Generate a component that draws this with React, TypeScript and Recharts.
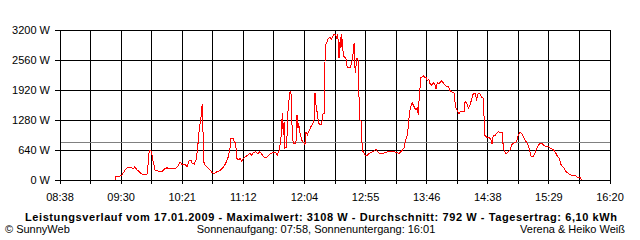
import React from 'react';
import { LineChart, Line, XAxis, YAxis, CartesianGrid, ReferenceLine } from 'recharts';

// time of day in minutes since midnight
const timeMin = [
  564.2, 565.0, 568.4, 570.1, 572.6, 574.3, 575.1, 578.5, 579.3, 581.0, 582.7, 583.5, 585.2, 586.9,
  591.1, 591.9, 593.0, 594.2, 595.0, 595.9, 597.0, 597.8, 600.3, 603.7, 605.4, 607.9, 608.7, 612.1,
  614.6, 617.1, 618.8, 620.5, 623.0, 624.7, 626.4, 628.0, 628.9, 630.8, 632.2, 633.3, 634.2, 635.0,
  636.2, 637.0, 637.5, 638.1, 638.7, 639.8, 641.7, 644.0, 645.9, 647.6, 649.6, 652.4, 655.2, 657.2,
  659.4, 660.8, 661.6, 663.6, 664.4, 665.6, 666.4, 667.8, 669.2, 670.6, 672.0, 674.8, 677.6, 679.0,
  680.4, 682.4, 684.1, 686.0, 687.9, 690.2, 692.5, 694.4, 697.2, 699.2, 700.5, 702.0, 702.8, 703.6,
  704.2, 704.7, 705.6, 706.2, 707.0, 708.4, 709.3, 710.4, 711.2, 712.0, 712.6, 713.1, 714.0, 716.2,
  717.1, 717.9, 718.5, 719.3, 720.2, 721.0, 722.4, 723.8, 724.6, 725.7, 727.2, 728.8, 730.3, 731.4,
  732.2, 733.0, 733.9, 735.0, 735.8, 737.8, 738.7, 739.8, 740.3, 740.9, 742.0, 743.4, 744.8, 746.2,
  747.6, 749.0, 750.4, 751.3, 752.4, 753.5, 754.0, 754.6, 755.5, 756.6, 758.2, 759.3, 761.6, 763.0,
  763.9, 765.0, 765.5, 766.1, 767.2, 768.3, 768.9, 770.0, 771.1, 771.9, 773.4, 775.0, 777.0, 779.0,
  781.2, 783.2, 784.5, 786.2, 789.1, 791.0, 793.8, 798.0, 800.8, 803.0, 805.0, 807.0, 808.4, 809.7,
  810.6, 811.4, 812.6, 813.7, 815.4, 817.0, 818.1, 819.0, 819.8, 821.0, 821.2, 822.3, 823.2, 824.6,
  825.4, 826.5, 827.7, 828.8, 830.2, 831.6, 833.0, 833.8, 834.9, 836.6, 838.6, 840.6, 842.8, 844.2,
  845.6, 847.5, 849.2, 850.1, 851.7, 853.2, 854.0, 857.4, 858.2, 859.6, 861.0, 862.4, 863.8, 865.2,
  866.6, 868.0, 869.1, 870.8, 872.2, 873.6, 874.2, 874.7, 876.4, 878.4, 879.8, 880.9, 882.0, 883.4,
  884.8, 886.2, 887.6, 889.5, 890.1, 891.0, 892.6, 894.6, 896.0, 897.4, 899.4, 901.6, 903.0, 904.4,
  905.8, 907.2, 908.6, 910.5, 912.2, 913.6, 915.6, 917.0, 918.4, 919.8, 921.2, 922.6, 924.0, 925.4,
  928.2, 929.6, 931.9, 933.8, 935.7, 937.4, 938.6, 940.3, 941.6, 943.0, 945.0, 947.0, 949.2, 950.6,
  952.5, 954.8, 956.2,
];

// power in W
const watts = [
  0, 85, 85, 107, 213, 256, 262, 262, 234, 284, 213, 199, 156, 128,
  128, 320, 640, 640, 576, 427, 320, 213, 192, 178, 228, 263, 234, 256,
  234, 298, 391, 334, 334, 284, 412, 427, 355, 341, 427, 604, 853, 1102,
  1280, 1493, 1621, 1067, 391, 320, 270, 213, 156, 128, 178, 199, 270, 355,
  498, 675, 889, 889, 818, 782, 462, 427, 462, 391, 462, 512, 569, 533,
  583, 604, 555, 604, 533, 470, 498, 560, 583, 583, 533, 619, 747, 889,
  1138, 1422, 960, 1244, 676, 711, 1422, 1707, 1884, 1884, 1458, 960, 782, 782,
  1387, 1102, 1209, 1031, 960, 853, 804, 761, 1031, 960, 1045, 1138, 1209, 1280,
  1849, 1600, 1458, 1244, 1188, 1188, 1401, 1422, 2169, 2880, 2916, 3022, 3036, 3008,
  3093, 3108, 3036, 3108, 2596, 3058, 2809, 3108, 2773, 2631, 2596, 2396, 2396, 2489,
  2631, 2916, 2524, 2276, 2596, 2596, 1920, 1280, 1244, 640, 569, 512, 548, 590,
  604, 654, 619, 569, 569, 583, 604, 604, 590, 569, 619, 690, 853, 960,
  1138, 1401, 1564, 1650, 1564, 1493, 1529, 1387, 1813, 2098, 2190, 2204, 2219, 2183,
  2190, 2119, 2148, 2062, 2027, 2076, 2027, 1934, 2076, 2062, 2119, 2048, 1991, 1991,
  1906, 1870, 1849, 1564, 1479, 1408, 1458, 1458, 1671, 1636, 1529, 1600, 1721, 1849,
  1849, 1721, 1835, 1835, 1764, 1742, 1351, 960, 910, 910, 868, 768, 960, 939,
  996, 1031, 1010, 1017, 782, 640, 555, 604, 640, 747, 796, 818, 960, 1010,
  996, 924, 853, 782, 676, 512, 512, 569, 676, 747, 782, 782, 747, 725,
  725, 676, 654, 604, 512, 462, 341, 284, 249, 178, 142, 107, 85, 100,
  57, 57, 0,
];

const xStart = 518; // 08:38
const xEnd = 980; // 16:20
const xTickLabels = ['08:38', '09:30', '10:21', '11:12', '12:04', '12:55', '13:46', '14:38', '15:29', '16:20'];
const yTicks = [0, 640, 1280, 1920, 2560, 3200];
const average = 792;

const titleText = 'Leistungsverlauf vom 17.01.2009 - Maximalwert: 3108 W - Durchschnitt: 792 W - Tagesertrag: 6,10 kWh';
const leftFooter = '\u00A9 SunnyWeb';
const centerFooter = 'Sonnenaufgang: 07:58, Sonnenuntergang: 16:01';
const rightFooter = 'Verena & Heiko Weiß';

const data = timeMin.map((t, i) => ({ t, w: watts[i] }));
const gridCount = (xTickLabels.length - 1) * 2;
const xTicks = Array.from({ length: gridCount + 1 }, (_, i) => xStart + (i * (xEnd - xStart)) / gridCount);

const FONT = '"Liberation Sans", Arial, sans-serif';

const fmtX = (v: number) => {
  let best = 0;
  let bd = Infinity;
  xTicks.forEach((tk, i) => {
    const d = Math.abs(tk - v);
    if (d < bd) {
      bd = d;
      best = i;
    }
  });
  return best % 2 === 0 ? xTickLabels[best / 2] : '';
};

export default function App() {
  return (
    <div style={{ position: 'absolute', left: 0, top: 0, width: 640, height: 240, background: '#fff', fontFamily: FONT }}>
      <style>{`.recharts-wrapper svg line, .recharts-wrapper svg path { shape-rendering: crispEdges; }`}</style>
      <LineChart width={640} height={240} data={data} margin={{ top: 30, right: 30, bottom: 0, left: 0 }}>
        <CartesianGrid stroke="#000" strokeOpacity={1} />
        <XAxis
          dataKey="t"
          type="number"
          domain={[xStart, xEnd]}
          ticks={xTicks}
          interval={0}
          height={60}
          tickFormatter={fmtX}
          tickSize={4}
          tickMargin={9}
          axisLine={{ stroke: '#000' }}
          tickLine={{ stroke: '#000' }}
          tick={{ fill: '#000', fontSize: 11, fontFamily: FONT }}
        />
        <YAxis
          type="number"
          domain={[0, 3200]}
          ticks={yTicks}
          interval={0}
          width={60}
          tickFormatter={(v: number) => `${v} W`}
          tickSize={5}
          tickMargin={5}
          axisLine={{ stroke: '#000' }}
          tickLine={{ stroke: '#000' }}
          tick={{ fill: '#000', fontSize: 11, fontFamily: FONT }}
        />
        <ReferenceLine y={average} stroke="#808080" strokeWidth={1} />
        <Line
          type="linear"
          dataKey="w"
          stroke="#ff0000"
          strokeWidth={1}
          dot={false}
          activeDot={false}
          isAnimationActive={false}
        />
      </LineChart>
      <svg width={640} height={240} style={{ position: 'absolute', left: 0, top: 0, pointerEvents: 'none' }}>
        <text
          x={25}
          y={221}
          textAnchor="start"
          fontSize={11}
          fontWeight="bold"
          fontFamily={FONT}
          fill="#000"
          textLength={592}
          lengthAdjust="spacing"
        >
          {titleText}
        </text>
        <text x={5} y={233} textAnchor="start" fontSize={11} fontFamily={FONT} fill="#000">
          {leftFooter}
        </text>
        <text x={316} y={233} textAnchor="middle" fontSize={11} fontFamily={FONT} fill="#000">
          {centerFooter}
        </text>
        <text x={625} y={233} textAnchor="end" fontSize={11} fontFamily={FONT} fill="#000">
          {rightFooter}
        </text>
      </svg>
    </div>
  );
}
